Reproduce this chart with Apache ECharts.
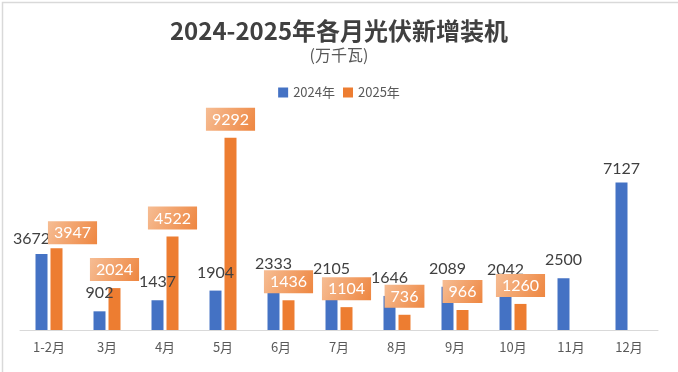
<!DOCTYPE html>
<html><head><meta charset="utf-8">
<script src="https://cdn.jsdelivr.net/npm/echarts@6/dist/echarts.min.js"></script>
<style>html,body{margin:0;padding:0;background:#fff}#c{width:678px;height:372px}</style>
</head><body><div id="c"></div>
<script>
const categories = ['1-2月','3月','4月','5月','6月','7月','8月','9月','10月','11月','12月'];
const values2024 = [3672, 902, 1437, 1904, 2333, 2105, 1646, 2089, 2042, 2500, 7127];
const values2025 = [3947, 2024, 4522, 9292, 1436, 1104, 736, 966, 1260, null, null];
const seriesNames = ['2024年', '2025年'];

// label nudges (presentation only)
const shift2024 = {0: [-10, 3], 10: [0, 4]};
const shift2025 = {0: [16, 3]};

const chart = echarts.init(document.getElementById('c'));
const numFont = 'Lato, "Noto Sans CJK SC", sans-serif';
const cjkFont = '"Noto Sans CJK SC", sans-serif';

const d2024 = values2024.map((v, i) => shift2024[i] ? {value: v, label: {offset: shift2024[i]}} : v);
const d2025 = values2025.map((v, i) => shift2025[i] ? {value: v, label: {offset: shift2025[i]}} : v);

chart.setOption({
  animation: false,
  backgroundColor: '#fff',
  graphic: [{
    type: 'rect', left: 0, top: 0, silent: true,
    shape: {x: 0.5, y: 0.5, width: 677, height: 371},
    style: {fill: 'none', stroke: '#D9D9D9', lineWidth: 1.5}
  }],
  title: [
    {text: '2024-2025年各月光伏新增装机', left: 'center', top: 14,
     textStyle: {fontSize: 24, fontWeight: 'bold', color: '#404040', fontFamily: cjkFont}},
    {text: '(万千瓦)', left: 'center', top: 42,
     textStyle: {fontSize: 16, fontWeight: 'normal', color: '#595959', fontFamily: cjkFont}}
  ],
  legend: {
    top: 81, left: 'center', itemWidth: 10, itemHeight: 10, itemGap: 8, icon: 'rect',
    textStyle: {fontSize: 13, color: '#595959', fontFamily: cjkFont},
    data: seriesNames
  },
  grid: {left: 20, right: 20, top: 123, bottom: 42},
  xAxis: {
    type: 'category', data: categories,
    axisLine: {lineStyle: {color: '#D9D9D9', width: 1}},
    axisTick: {show: false},
    axisLabel: {color: '#595959', fontSize: 13, margin: 11, fontFamily: cjkFont}
  },
  yAxis: {type: 'value', min: 0, max: 10000, show: false, splitLine: {show: false}},
  series: [
    {name: seriesNames[0], type: 'bar', data: d2024, barWidth: 12, barGap: '25%',
     itemStyle: {color: '#4472C4'},
     label: {show: true, position: 'top', distance: 10, color: '#404040', fontSize: 16, fontFamily: numFont}},
    {name: seriesNames[1], type: 'bar', data: d2025, barWidth: 12,
     itemStyle: {color: '#ED7D31'},
     label: {show: true, position: 'top', distance: 7, color: '#fff', fontSize: 16, fontFamily: numFont,
       padding: [4, 6, 3, 6],
       backgroundColor: new echarts.graphic.LinearGradient(0, 0, 1, 1, [
         {offset: 0, color: '#F6BD94'}, {offset: 1, color: '#EE8640'}])}}
  ]
});
</script></body></html>
